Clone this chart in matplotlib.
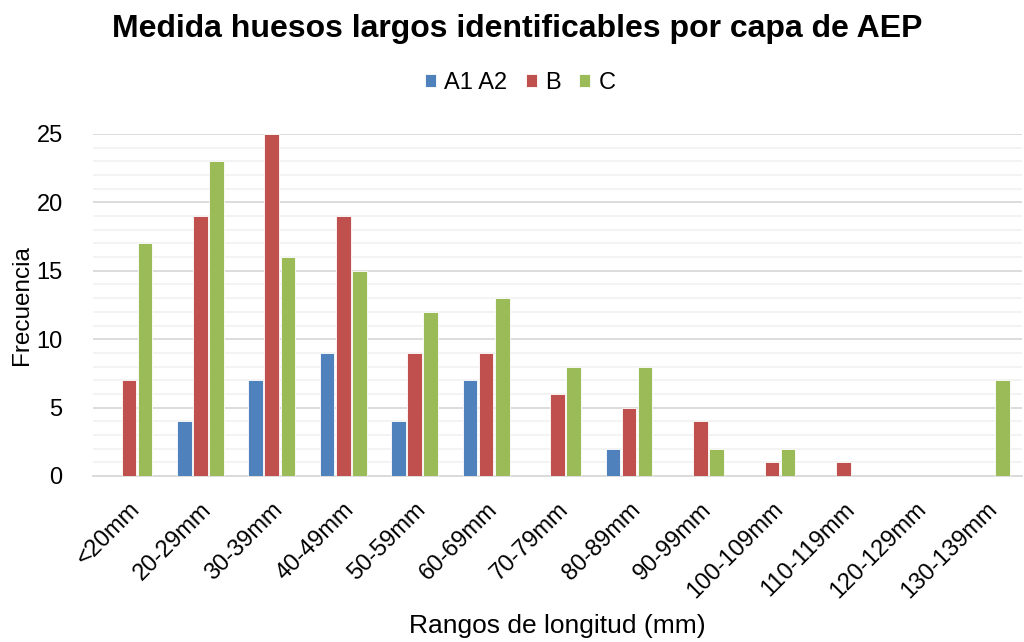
import numpy as np
import matplotlib.pyplot as plt

plt.rcParams['font.family'] = ['Liberation Sans', 'DejaVu Sans']

categorias = ['<20mm', '20-29mm', '30-39mm', '40-49mm', '50-59mm', '60-69mm',
              '70-79mm', '80-89mm', '90-99mm', '100-109mm', '110-119mm',
              '120-129mm', '130-139mm']
a1a2 = [0, 4, 7, 9, 4, 7, 0, 2, 0, 0, 0, 0, 0]
capa_b = [7, 19, 25, 19, 9, 9, 6, 5, 4, 1, 1, 0, 0]
capa_c = [17, 23, 16, 15, 12, 13, 8, 8, 2, 2, 0, 0, 7]

series = [('A1 A2', a1a2, '#4F81BD'), ('B', capa_b, '#C0504D'), ('C', capa_c, '#9BBB59')]

fig = plt.figure(figsize=(10.24, 6.42), dpi=100)
ax = fig.add_axes([0.091, 0.2586, 0.907, 0.5327])

x = np.arange(len(categorias))
paso = 0.225
ancho = 0.205
for i, (nombre, vals, color) in enumerate(series):
    ax.bar(x + (i - 1) * paso, vals, width=ancho, color=color, label=nombre,
           edgecolor='white', linewidth=0.6, zorder=3)

ax.set_xlim(-0.5, len(categorias) - 0.5)
ax.set_ylim(0, 25)
ax.set_yticks(range(0, 26, 5))
ax.set_yticks(range(0, 26, 1), minor=True)
ax.grid(axis='y', which='major', color='#D9D9D9', linewidth=1.3, zorder=0)
ax.grid(axis='y', which='minor', color='#F2F2F2', linewidth=1.3, zorder=0)
for s in ['top', 'right', 'left']:
    ax.spines[s].set_visible(False)
ax.spines['bottom'].set_color('#D9D9D9')
ax.spines['bottom'].set_linewidth(1.3)
ax.tick_params(axis='both', which='both', length=0, labelsize=17)
ax.tick_params(axis='x', pad=16)
ax.tick_params(axis='y', pad=22)
ax.set_xticks(x)
ax.set_xticklabels(categorias, rotation=45, ha='right', rotation_mode='anchor')

ax.set_xlabel('Rangos de longitud (mm)', fontsize=19)
ax.xaxis.set_label_coords(0.5, -0.405)
ax.set_ylabel('Frecuencia', fontsize=17.5)
ax.yaxis.set_label_coords(-0.065, 0.5)

fig.suptitle('Medida huesos largos identificables por capa de AEP', fontsize=23,
             fontweight='bold', x=0.505, y=0.978)
fig.legend(loc='center', bbox_to_anchor=(0.508, 0.871), ncol=3, frameon=False,
           fontsize=17, handlelength=0.45, handleheight=0.45, handletextpad=0.35,
           columnspacing=0.8)

fig.savefig('out.png', dpi=100)
